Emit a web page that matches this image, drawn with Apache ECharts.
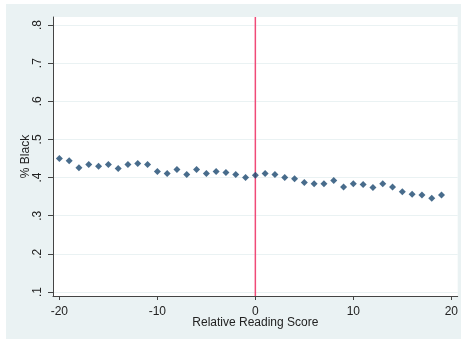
<!DOCTYPE html>
<html>
<head>
<meta charset="utf-8">
<script src="https://cdn.jsdelivr.net/npm/echarts@6/dist/echarts.min.js"></script>
<style>
html,body{margin:0;padding:0;background:#fff;}
#chart{width:461px;height:340px;}
</style>
</head>
<body>
<div id="chart"></div>
<script>
var scores = [-20,-19,-18,-17,-16,-15,-14,-13,-12,-11,-10,-9,-8,-7,-6,-5,-4,-3,-2,-1,0,1,2,3,4,5,6,7,8,9,10,11,12,13,14,15,16,17,18,19];
var pctBlack = [0.450,0.444,0.426,0.434,0.430,0.434,0.424,0.434,0.437,0.434,0.416,0.411,0.421,0.408,0.421,0.411,0.416,0.413,0.408,0.400,0.406,0.411,0.408,0.400,0.397,0.387,0.384,0.384,0.392,0.375,0.384,0.382,0.374,0.384,0.375,0.363,0.356,0.354,0.346,0.354];
var xTicks = [-20,-10,0,10,20];
var yTicks = [0.1,0.2,0.3,0.4,0.5,0.6,0.7,0.8];
var cutoff = 0;

var points = scores.map(function(s,i){return [s,pctBlack[i]];});
var font = 'Liberation Sans, Arial, sans-serif';
var lineColor = '#f04a78';
var chart = echarts.init(document.getElementById('chart'));
chart.setOption({
  backgroundColor:'#ffffff',
  animation:false,
  graphic:[{type:'rect',z:-10,shape:{x:6,y:4,width:455,height:335},style:{fill:'#eaf2f3'},silent:true}],
  grid:{left:53,top:17,right:2,bottom:44,show:true,backgroundColor:'#ffffff',borderWidth:0},
  xAxis:{
    type:'value',min:-20.65,max:20.65,
    name:'Relative Reading Score',nameLocation:'middle',nameGap:21,nameMoveOverlap:false,
    nameTextStyle:{fontFamily:font,fontSize:12,color:'#222'},
    axisLine:{show:true,onZero:false,lineStyle:{color:'#444',width:1}},
    axisTick:{show:true,length:4,customValues:xTicks,lineStyle:{color:'#444'}},
    axisLabel:{customValues:xTicks,fontFamily:font,fontSize:12,color:'#222',margin:10},
    splitLine:{show:false}
  },
  yAxis:{
    type:'value',min:0.0895,max:0.821,
    name:'% Black',nameLocation:'middle',nameGap:21,nameRotate:90,nameMoveOverlap:false,
    nameTextStyle:{fontFamily:font,fontSize:12,color:'#222'},
    axisLine:{show:true,onZero:false,lineStyle:{color:'#444',width:1}},
    axisTick:{show:true,length:5,customValues:yTicks,lineStyle:{color:'#444'}},
    axisLabel:{customValues:yTicks,rotate:90,fontFamily:font,fontSize:12,color:'#222',margin:9,
      formatter:function(v){return v.toFixed(1).replace(/^0/,'');}},
    splitLine:{show:true,customValues:yTicks,lineStyle:{color:'#eaf2f3',width:1}}
  },
  series:[{
    type:'scatter',data:points,symbol:'diamond',symbolSize:7,z:3,
    itemStyle:{color:'#1a476f'}
  },{
    type:'line',data:[[cutoff,0.0895],[cutoff,0.821]],symbol:'none',z:2,
    lineStyle:{color:lineColor,width:1.5,type:'solid'},itemStyle:{color:lineColor},
    silent:true
  }]
});
</script>
</body>
</html>
